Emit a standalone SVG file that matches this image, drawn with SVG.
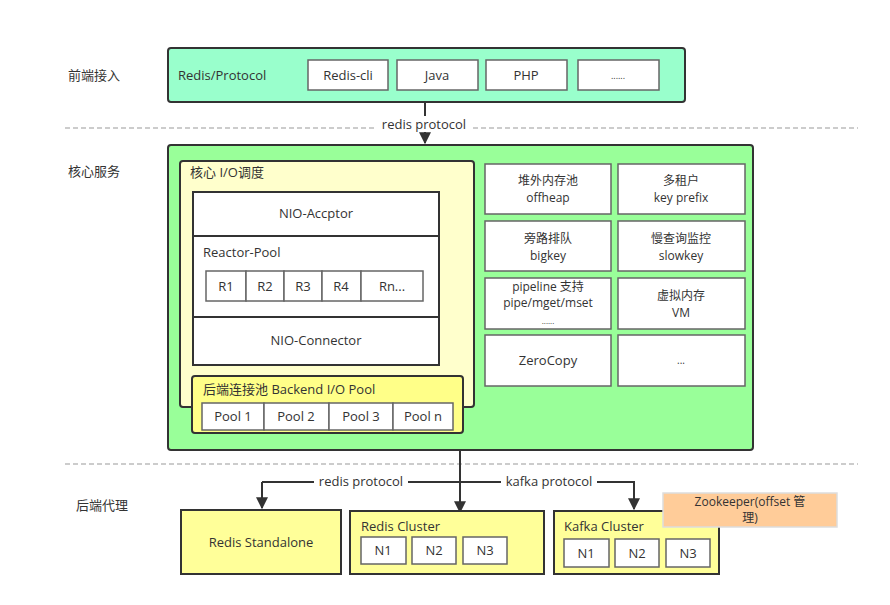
<svg xmlns="http://www.w3.org/2000/svg" width="890" height="605" viewBox="0 0 890 605">
<defs>
<marker id="arrB" viewBox="0 0 10 10" refX="9" refY="5" markerWidth="13" markerHeight="12" markerUnits="userSpaceOnUse" orient="auto">
<path d="M0,0 L10,5 L0,10 z" fill="#333"/>
</marker>
</defs>
<style>
text{font-family:"Open Sans","Noto Sans CJK SC",sans-serif;font-size:13px;fill:#333}
.c{text-anchor:middle}
.m{font-size:12px}
.big{stroke:#333;stroke-width:2}
.wb{fill:#fff;stroke:#666;stroke-width:1.5}
.dash{stroke:#999;stroke-width:1;stroke-dasharray:5,3;fill:none}
.conn{stroke:#333;stroke-width:2;fill:none}
.lbl{fill:#fff}
</style>
<rect width="890" height="605" fill="#fff"/>
<g id="lanes">
<line class="dash" x1="65" y1="128" x2="858" y2="128"/>
<line class="dash" x1="65" y1="464" x2="858" y2="464"/>
<text x="68" y="80">前端接入</text>
<text x="68" y="176">核心服务</text>
<text x="76" y="510">后端代理</text>
</g>
<g id="connectors">
<line class="conn" x1="425" y1="102" x2="425" y2="143" marker-end="url(#arrB)"/>
<rect class="lbl" x="376" y="116" width="95" height="16"/>
<text class="c" x="424" y="129">redis protocol</text>
<line class="conn" x1="460" y1="450" x2="460" y2="512" marker-end="url(#arrB)"/>
<polyline class="conn" points="262,482 262,508" marker-end="url(#arrB)"/>
<polyline class="conn" points="262,482 634,482 634,509" marker-end="url(#arrB)"/>
<rect class="lbl" x="314" y="474" width="94" height="15"/>
<text class="c" x="361" y="486">redis protocol</text>
<rect class="lbl" x="501" y="474" width="96" height="15"/>
<text class="c" x="549" y="486">kafka protocol</text>
</g>
<g id="frontend">
<rect class="big" x="168" y="48" width="517" height="54" rx="3" fill="#99ffcc"/>
<text x="178" y="80">Redis/Protocol</text>
<rect class="wb" x="308" y="60" width="80" height="30"/>
<text class="c" x="348" y="80">Redis-cli</text>
<rect class="wb" x="397" y="60" width="81" height="30"/>
<text class="c" x="437" y="80">Java</text>
<rect class="wb" x="486" y="60" width="81" height="30"/>
<text class="c" x="526" y="80">PHP</text>
<rect class="wb" x="578" y="60" width="81" height="30"/>
<text class="c" x="618" y="79" style="font-size:9px">......</text>
</g>
<g id="core">
<rect class="big" x="168" y="145" width="585" height="305" rx="3" fill="#99ff99"/>
</g>
<g id="core-io">
<rect class="big" x="180" y="161" width="294" height="246" rx="3" fill="#ffffcc"/>
<text x="190" y="177">核心 I/O调度</text>
</g>
<g id="nio">
<rect x="193" y="192" width="246" height="173" fill="#fff" stroke="#333" stroke-width="2"/>
<line x1="193" y1="236" x2="439" y2="236" stroke="#333" stroke-width="2"/>
<line x1="193" y1="317" x2="439" y2="317" stroke="#333" stroke-width="2"/>
<text class="c" x="316" y="218">NIO-Accptor</text>
<text x="203" y="257">Reactor-Pool</text>
<text class="c" x="316" y="345">NIO-Connector</text>
</g>
<g id="reactors">
<rect class="wb" x="206" y="271" width="40" height="30"/>
<text class="c" x="226" y="291">R1</text>
<rect class="wb" x="246" y="271" width="38" height="30"/>
<text class="c" x="265" y="291">R2</text>
<rect class="wb" x="284" y="271" width="38" height="30"/>
<text class="c" x="303" y="291">R3</text>
<rect class="wb" x="322" y="271" width="39" height="30"/>
<text class="c" x="341" y="291">R4</text>
<rect class="wb" x="361" y="271" width="62" height="30"/>
<text class="c" x="392" y="291">Rn...</text>
</g>
<g id="backend-pool">
<rect class="big" x="192" y="376" width="271" height="57" rx="3" fill="#ffff88"/>
<text x="203" y="394">后端连接池 Backend I/O Pool</text>
<rect class="wb" x="202" y="403" width="62" height="27"/>
<text class="c" x="233" y="421">Pool 1</text>
<rect class="wb" x="264" y="403" width="65" height="27"/>
<text class="c" x="296" y="421">Pool 2</text>
<rect class="wb" x="329" y="403" width="64" height="27"/>
<text class="c" x="361" y="421">Pool 3</text>
<rect class="wb" x="393" y="403" width="60" height="27"/>
<text class="c" x="423" y="421">Pool n</text>
</g>
<g id="features">
<rect class="wb" x="485" y="164" width="126" height="50"/>
<text class="c m" x="548" y="185">堆外内存池</text>
<text class="c m" x="548" y="202">offheap</text>
<rect class="wb" x="618" y="164" width="127" height="50"/>
<text class="c m" x="681" y="185">多租户</text>
<text class="c m" x="681" y="202">key prefix</text>
<rect class="wb" x="485" y="221" width="126" height="50"/>
<text class="c m" x="548" y="243">旁路排队</text>
<text class="c m" x="548" y="260">bigkey</text>
<rect class="wb" x="618" y="221" width="127" height="50"/>
<text class="c m" x="681" y="243">慢查询监控</text>
<text class="c m" x="681" y="260">slowkey</text>
<rect class="wb" x="485" y="278" width="126" height="51"/>
<text class="c m" x="548" y="291">pipeline 支持</text>
<text class="c m" x="548" y="307">pipe/mget/mset</text>
<text class="c" x="548" y="324" style="font-size:8px">......</text>
<rect class="wb" x="618" y="278" width="127" height="51"/>
<text class="c m" x="681" y="300">虚拟内存</text>
<text class="c m" x="681" y="317">VM</text>
<rect class="wb" x="485" y="335" width="126" height="51"/>
<text class="c" x="548" y="365">ZeroCopy</text>
<rect class="wb" x="618" y="335" width="127" height="51"/>
<text class="c" x="681" y="364" style="font-size:10px">...</text>
</g>
<g id="redis-standalone">
<rect class="big" x="181" y="510" width="160" height="64" fill="#ffff99"/>
<text class="c" x="261" y="547">Redis Standalone</text>
</g>
<g id="redis-cluster">
<rect class="big" x="350" y="511" width="194" height="63" fill="#ffff99"/>
<text x="361" y="531">Redis Cluster</text>
<rect class="wb" x="361" y="537" width="45" height="27"/>
<text class="c" x="383" y="555">N1</text>
<rect class="wb" x="412" y="537" width="44" height="27"/>
<text class="c" x="434" y="555">N2</text>
<rect class="wb" x="463" y="537" width="44" height="27"/>
<text class="c" x="485" y="555">N3</text>
</g>
<g id="kafka-cluster">
<rect class="big" x="554" y="511" width="165" height="63" fill="#ffff99"/>
<text x="564" y="531">Kafka Cluster</text>
<rect class="wb" x="564" y="539" width="45" height="28"/>
<text class="c" x="586" y="558">N1</text>
<rect class="wb" x="615" y="539" width="44" height="28"/>
<text class="c" x="637" y="558">N2</text>
<rect class="wb" x="666" y="539" width="44" height="28"/>
<text class="c" x="688" y="558">N3</text>
</g>
<g id="zookeeper">
<rect x="663" y="493" width="174" height="34" fill="#ffcc99" stroke="#ddd" stroke-width="1.5"/>
<text class="c m" x="750" y="506">Zookeeper(offset 管</text>
<text class="c m" x="750" y="522">理)</text>
</g>
</svg>
